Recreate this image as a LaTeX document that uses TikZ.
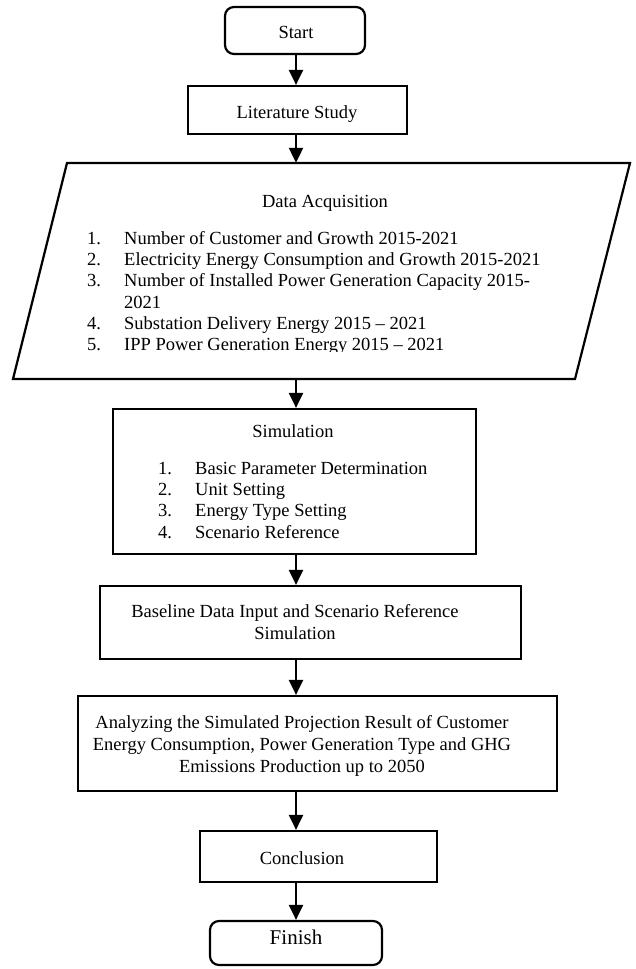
\documentclass[tikz,border=0pt]{standalone}
\usepackage{fontspec}
\setmainfont{Liberation Serif}
\usetikzlibrary{arrows.meta}
\begin{document}
\begin{tikzpicture}[x=1pt,y=-1pt,
  box/.style={draw, line width=2.2pt, inner sep=0pt},
  holder/.style={draw=none, inner sep=0pt},
  txt/.style={font=\fontsize{18.5}{21.3}\selectfont, inner sep=0pt, anchor=base},
  numtxt/.style={font=\fontsize{18.5}{21.3}\selectfont, inner sep=0pt, anchor=base west},
  arr/.style={line width=2.2pt, -{Triangle[width=14pt,length=15pt]}},
]
\useasboundingbox (0,0) rectangle (635,969);
\coordinate (col) at (296,0);

% boxes
\node[box, rounded corners=9pt, minimum width=140pt, minimum height=47pt] (start) at (295,30.5) {};
\node[box, minimum width=219pt, minimum height=48pt] (lit) at (297.5,110) {};
\node[holder, minimum width=617pt, minimum height=216pt] (da) at (321.5,271) {};
\draw[line width=2.2pt, line join=miter] (67,163) -- (630,163) -- (575,379) -- (13,379) -- cycle;
\node[box, minimum width=363pt, minimum height=145pt] (sim) at (294.5,481.5) {};
\node[box, minimum width=421pt, minimum height=73pt] (base) at (310.5,622.5) {};
\node[box, minimum width=479pt, minimum height=95pt] (ana) at (317.5,743.5) {};
\node[box, minimum width=237pt, minimum height=51pt] (conc) at (318.5,856.5) {};
\node[box, rounded corners=9pt, minimum width=172pt, minimum height=44pt] (fin) at (296,943) {};

% texts
\node[txt] (tstart) at (296,38) {Start};
\node[txt] (tlit) at (297,118) {Literature Study};
\node[txt] (tda) at (325,207) {Data Acquisition};
\begin{scope}
\clip (0,0) rectangle (635,351.8);
\node[numtxt] (dn1) at (87,244) {1.};
\node[numtxt] (dt1) at (124,244) {Number of Customer and Growth 2015-2021};
\node[numtxt] (dn2) at (87,265.3) {2.};
\node[numtxt] (dt2) at (124,265.3) {Electricity Energy Consumption and Growth 2015-2021};
\node[numtxt] (dn3) at (87,286.6) {3.};
\node[numtxt] (dt3) at (124,286.6) {Number of Installed Power Generation Capacity 2015-};
\node[numtxt] (dt3b) at (124,308) {2021};
\node[numtxt] (dn4) at (87,329.3) {4.};
\node[numtxt] (dt4) at (124,329.3) {Substation Delivery Energy 2015 – 2021};
\node[numtxt] (dn5) at (87,350.6) {5.};
\node[numtxt] (dt5) at (124,350.6) {IPP Power Generation Energy 2015 – 2021};
\end{scope}

\node[txt] (tsim) at (293,437) {Simulation};
\node[numtxt] (sn1) at (158,474) {1.};
\node[numtxt] (st1) at (195,474) {Basic Parameter Determination};
\node[numtxt] (sn2) at (158,495.3) {2.};
\node[numtxt] (st2) at (195,495.3) {Unit Setting};
\node[numtxt] (sn3) at (158,516.6) {3.};
\node[numtxt] (st3) at (195,516.6) {Energy Type Setting};
\node[numtxt] (sn4) at (158,538) {4.};
\node[numtxt] (st4) at (195,538) {Scenario Reference};

\node[txt] (tb1) at (295,617) {Baseline Data Input and Scenario Reference};
\node[txt] (tb2) at (295,639) {Simulation};

\node[txt] (ta1) at (302,728) {Analyzing the Simulated Projection Result of Customer};
\node[txt] (ta2) at (302,750) {Energy Consumption, Power Generation Type and GHG};
\node[txt] (ta3) at (302,772) {Emissions Production up to 2050};

\node[txt] (tconc) at (302,864) {Conclusion};
\node[txt, font=\fontsize{21}{24}\selectfont] (tfin) at (296,944) {Finish};

% arrows
\draw[arr] (start.south -| col) -- (lit.north -| col);
\draw[arr] (lit.south -| col) -- (da.north -| col);
\draw[arr] (da.south -| col) -- (sim.north -| col);
\draw[arr] (sim.south -| col) -- (base.north -| col);
\draw[arr] (base.south -| col) -- (ana.north -| col);
\draw[arr] (ana.south -| col) -- (conc.north -| col);
\draw[arr] (conc.south -| col) -- (fin.north -| col);
\end{tikzpicture}
\end{document}
